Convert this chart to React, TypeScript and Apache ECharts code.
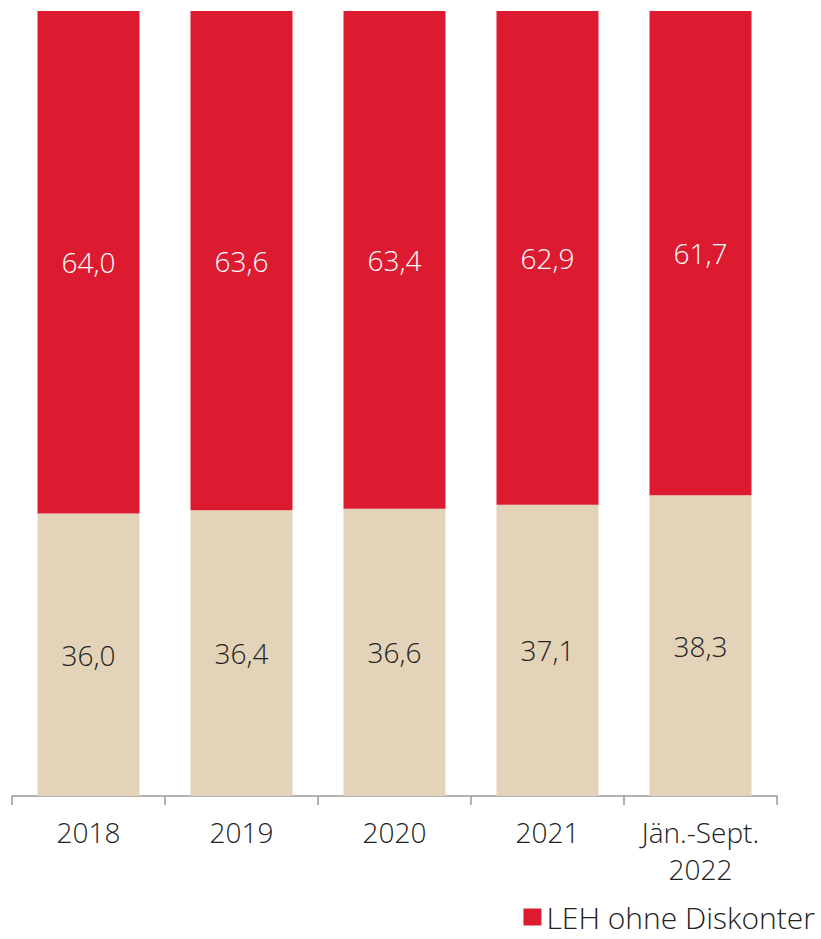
import React, { useEffect, useRef } from "react";
import * as echarts from "echarts";

const categories = ["2018", "2019", "2020", "2021", "Jän.-Sept.\n2022"];
const diskonterValues = [36.0, 36.4, 36.6, 37.1, 38.3];
const lehValues = [64.0, 63.6, 63.4, 62.9, 61.7];

const RED = "#DC1B30";
const BEIGE = "#E3D3B8";
const FONT = "'Open Sans', 'Noto Sans', sans-serif";

export default function App() {
  const ref = useRef<HTMLDivElement>(null);
  useEffect(() => {
    if (!ref.current) return;
    const chart = echarts.init(ref.current, undefined, { renderer: "svg" });
    const fmt = (p: any) => Number(p.value).toFixed(1).replace(".", ",");
    chart.setOption({
      animation: false,
      textStyle: { fontFamily: FONT },
      grid: { left: 12, right: 44, top: 11, bottom: 143 },
      legend: {
        data: ["LEH ohne Diskonter"],
        right: 1,
        bottom: 2,
        itemWidth: 18,
        itemHeight: 17,
        itemGap: 8,
        icon: "rect",
        textStyle: { fontSize: 30, color: "#222", fontWeight: 300, fontFamily: FONT },
      },
      xAxis: {
        type: "category",
        data: categories,
        axisLine: { show: true, lineStyle: { color: "#999", width: 1.5 } },
        axisTick: { show: true, length: 9, alignWithLabel: false, lineStyle: { color: "#999", width: 1.5 } },
        axisLabel: {
          fontSize: 28,
          color: "#222",
          fontWeight: 300,
          lineHeight: 37,
          margin: 17,
          fontFamily: FONT,
        },
      },
      yAxis: { type: "value", min: 0, max: 100, show: false },
      series: [
        {
          name: "Diskonter",
          type: "bar",
          stack: "total",
          data: diskonterValues,
          barWidth: 102,
          itemStyle: { color: BEIGE },
          label: {
            show: true,
            position: "inside",
            formatter: fmt,
            fontSize: 28,
            fontWeight: 300,
            color: "#222",
            fontFamily: FONT,
          },
        },
        {
          name: "LEH ohne Diskonter",
          type: "bar",
          stack: "total",
          data: lehValues,
          barWidth: 102,
          itemStyle: { color: RED },
          label: {
            show: true,
            position: "inside",
            formatter: fmt,
            fontSize: 28,
            fontWeight: 300,
            color: "#fff",
            fontFamily: FONT,
          },
        },
      ],
    });
    return () => chart.dispose();
  }, []);
  return (
    <div
      ref={ref}
      style={{ position: "fixed", left: 0, top: 0, width: 821, height: 939, background: "#fff" }}
    />
  );
}
